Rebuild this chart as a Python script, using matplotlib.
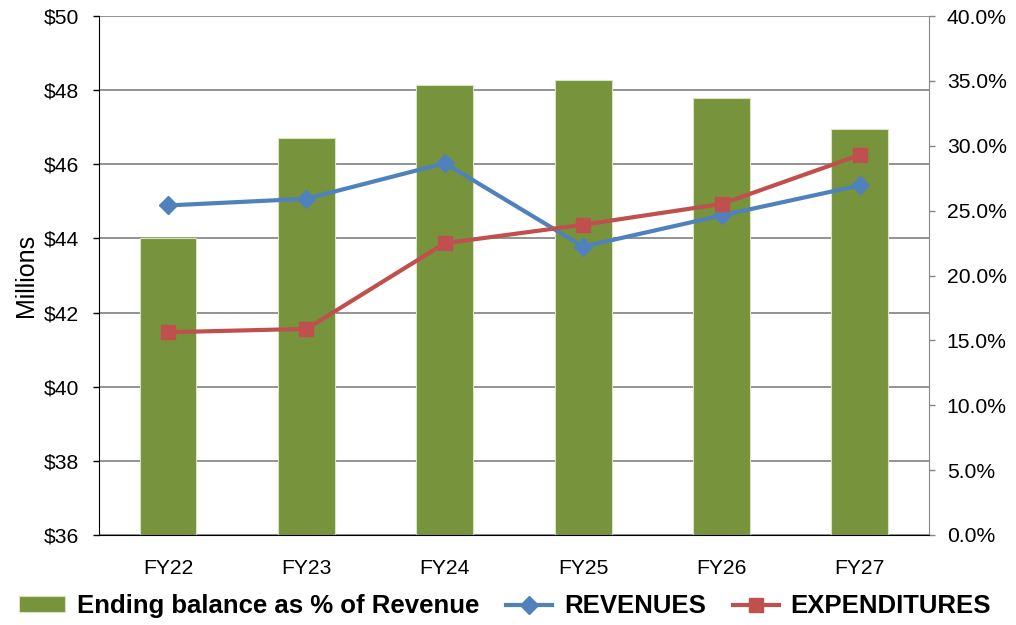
import matplotlib
matplotlib.use("Agg")
import matplotlib.pyplot as plt
from matplotlib.ticker import FuncFormatter, MultipleLocator
import numpy as np

plt.rcParams['font.family'] = ['Liberation Sans', 'DejaVu Sans']

years = ["FY22", "FY23", "FY24", "FY25", "FY26", "FY27"]
# ending balance as % of revenue (right axis)
balance_pct = [22.9, 30.6, 34.7, 35.1, 33.7, 31.3]
# millions (left axis)
revenues = [44.89, 45.07, 46.03, 43.78, 44.62, 45.43]
expenditures = [41.47, 41.56, 43.87, 44.37, 44.93, 46.25]

green = "#77933C"
blue = "#4F81BD"
red = "#C0504D"

pos = [0.0974, 0.144, 0.8170, 0.8304]
fig = plt.figure(figsize=(10.16, 6.25), dpi=100)

# gridlines follow the left ($) axis but sit behind the bars
ax_grid = fig.add_axes(pos)
ax_grid.set_ylim(36, 50)
ax_grid.yaxis.set_major_locator(MultipleLocator(2))
ax_grid.grid(axis="y", color="#808080", linewidth=1.2)
ax_grid.set_xticks([])
ax_grid.tick_params(axis="y", left=False, labelleft=False)
for s in ax_grid.spines.values():
    s.set_visible(False)

ax = fig.add_axes(pos)
ax2 = ax.twinx()

x = np.arange(len(years))

bars = ax2.bar(x, balance_pct, width=0.41, color=green, edgecolor="#D7E4BD",
               linewidth=0.8, zorder=2)
ax2.set_ylim(0, 40)
ax2.yaxis.set_major_locator(MultipleLocator(5))
ax2.yaxis.set_major_formatter(FuncFormatter(lambda v, p: "%.1f%%" % v))
ax2.patch.set_visible(False)

ax.set_zorder(ax2.get_zorder() + 1)
ax.patch.set_visible(False)

l1, = ax.plot(x, revenues, color=blue, linewidth=3, marker="D", markersize=9)
l2, = ax.plot(x, expenditures, color=red, linewidth=3, marker="s", markersize=10.5)
ax.set_ylim(36, 50)
ax.yaxis.set_major_locator(MultipleLocator(2))
ax.yaxis.set_major_formatter(FuncFormatter(lambda v, p: "$%d" % v))
ax.set_xlim(-0.5, len(years) - 0.5)
ax_grid.set_xlim(-0.5, len(years) - 0.5)
ax.set_xticks(x)
ax.set_xticklabels(years)
ax.set_ylabel("Millions", fontsize=18, labelpad=4)

for a in (ax, ax2):
    a.spines["top"].set_visible(False)
    a.tick_params(axis="both", labelsize=15.2, length=4.3, width=1)
ax.tick_params(axis="x", length=0, pad=17)
ax2.tick_params(axis="y", colors="#868686", labelcolor="black", pad=8.5)
ax.tick_params(axis="y", pad=10)
ax2.spines["right"].set_color("#868686")
ax2.spines["left"].set_visible(False)
ax2.spines["bottom"].set_visible(False)
ax.spines["right"].set_visible(False)
ax.spines["left"].set_color("black")
ax.spines["bottom"].set_color("black")

fig.legend([bars, l1, l2], ["Ending balance as % of Revenue", "REVENUES", "EXPENDITURES"],
           loc="center", bbox_to_anchor=(0.497, 19 / 625), ncol=3, frameon=False,
           prop={"weight": "bold", "size": 18.5}, handlelength=1.8, handleheight=0.55,
           columnspacing=1.05, handletextpad=0.45)

fig.savefig("out.png", dpi=100)
